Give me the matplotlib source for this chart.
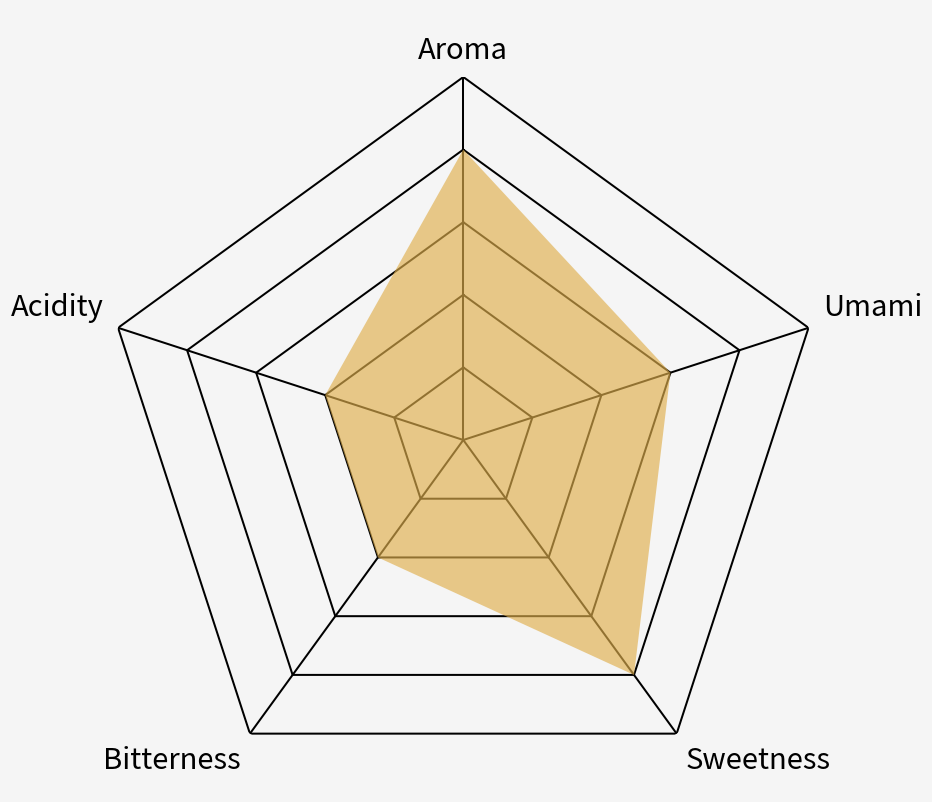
import numpy as np
import matplotlib
matplotlib.use('Agg')
import matplotlib.pyplot as plt

categories = ['Aroma', 'Umami', 'Sweetness', 'Bitterness', 'Acidity']
values = [4, 3, 4, 2, 2]
max_value = 5
levels = [1, 2, 3, 4, 5]

plt.rcParams['font.family'] = ['Noto Sans CJK JP', 'DejaVu Sans']

bg = '#f5f5f5'
fig = plt.figure(figsize=(9.32, 8.02), dpi=100, facecolor=bg)
ax = fig.add_axes([0.1076, -0.0012, 0.779, 0.9052], projection='polar')
ax.set_theta_offset(np.pi / 2)
ax.set_theta_direction(-1)
ax.axis('off')

n = len(categories)
angles = np.arange(n) * 2 * np.pi / n
closed = np.append(angles, angles[0])

for lv in levels:
    ax.plot(closed, [lv] * (n + 1), color='black', lw=1.45, zorder=1,
            solid_joinstyle='miter')
for a in angles:
    ax.plot([a, a], [0, max_value], color='black', lw=1.45, zorder=1)

vals = values + values[:1]
ax.fill(closed, vals, color='#E0AF4C', alpha=0.65, lw=0, zorder=2)

for a, name in zip(angles, categories):
    sx, sy = np.sin(a), np.cos(a)
    ha = 'center' if abs(sx) < 0.1 else ('left' if sx > 0 else 'right')
    va = 'center' if abs(sy) < 0.1 else ('bottom' if sy > 0 else 'top')
    gap = 11 if abs(sx) < 0.1 else 15
    ax.text(a, max_value * (1 + gap / 362), name, ha=ha, va=va,
            fontsize=21, color='black')

ax.set_ylim(0, max_value)
fig.savefig('out.png', dpi=100, facecolor=bg)
